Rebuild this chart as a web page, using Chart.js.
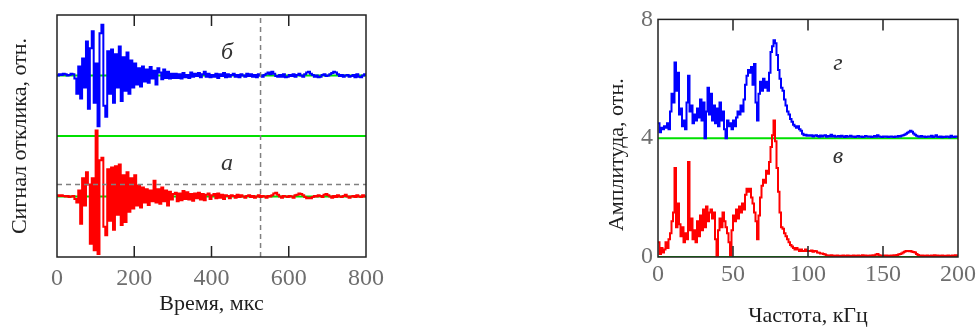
<!DOCTYPE html>
<html lang="ru">
<head>
<meta charset="UTF-8">
<title>Сигнал отклика и спектр</title>
<script src="https://cdn.jsdelivr.net/npm/chart.js"></script>
<style>
    body { margin: 0; background: #fff; width: 980px; height: 329px; overflow: hidden; position: relative; }
    #timeChart { position: absolute; left: 0; top: 0; }
    #freqChart { position: absolute; left: 590px; top: 0; }
</style>
</head>
<body>
<canvas id="timeChart" width="400" height="329"></canvas>
<canvas id="freqChart" width="390" height="329"></canvas>
<script>
// --- сигналы (шаг 5 мкс, 0..800 мкс) ---
const timeStep = 5;
const timeTicks = [0, 200, 400, 600, 800];

// а — красный
const signalA = [
    0.02, 0.01, 0.02, 0.01, 0, 0.01, -0.01, 0, 0.01,
    -0.04, -0.1, 0.1, -0.45, 0.3, -0.15, 0.4, 0.2, -0.78, 0.3,
    -0.89, 1.09, -0.95, 0.6, 0.64, -0.5, -0.64, 0.45, -0.4, 0.48,
    -0.55, 0.5, -0.3, 0.53, -0.47, 0.35, -0.42, 0.4, -0.25, 0.3,
    -0.2, 0.35, -0.15, 0.18, -0.18, 0.15, -0.1, 0.12, -0.14, 0.1,
    -0.08, 0.26, -0.1, 0.12, -0.12, 0.15, -0.08, 0.1, -0.15, 0.08,
    -0.05, 0.04,
    0.06, -0.08, 0.05, -0.06, 0.09, -0.04, 0.07, -0.05, 0.04, -0.07,
    0.05, -0.03, 0.06, -0.05, 0.04, -0.06, 0.03, 0.05, -0.04, 0.02,
    0.04, -0.03, 0.05, -0.02, 0.03, -0.04, 0.02, 0.01, -0.03, 0.02,
    0.01, -0.02, 0.03, -0.01, 0.02, 0, -0.02, 0.01, 0.02, -0.01,
    0.01, -0.02, 0, 0.02, -0.01, 0.01, 0, -0.02, 0.01, 0,
    0.02, 0.05, 0.06, 0.03, 0, -0.02, 0.01, 0, -0.01, 0.01,
    0, -0.02, 0.02, 0.03, 0.05, 0.04, 0.02, -0.01, -0.03, -0.02,
    -0.03, -0.01, 0.01, 0, 0.02, 0.01, -0.01, 0.03, 0.04, 0.02,
    0, -0.02, 0.01, -0.01, 0.02, 0, -0.01, 0.01, 0.03, 0,
    -0.02, 0, 0.01, -0.01, 0.02, 0, -0.01, 0.02, 0, 0.01
];

// б — синий
const signalB = [
    0, 0.02, 0.01, 0.03, 0.02, 0, 0.01, 0.03, 0.02,
    -0.05, -0.3, 0.15, -0.38, 0.28, -0.2, 0.56, -0.55, 0.45, 0.73,
    -0.45, 0.2, -0.84, 0.7, 0.84, -0.5, -0.68, 0.4, -0.3, 0.43,
    -0.45, 0.35, -0.2, 0.48, -0.42, 0.3, -0.25, 0.38, -0.3, 0.25,
    -0.2, 0.2, -0.15, 0.12, -0.18, 0.15, -0.1, 0.1, -0.12, 0.14,
    -0.05, 0.08, -0.15, 0.12, 0.05, -0.06, 0.1, -0.04, 0.06, -0.05,
    0.03, -0.04,
    0.03, -0.04, 0.02, -0.05, 0.04, -0.03, 0.01, -0.04, 0.05, -0.02,
    0.03, -0.01, 0.04, -0.03, 0.02, 0.06, -0.02, 0.03, -0.03, 0.01,
    -0.02, 0.03, -0.04, 0.02, -0.01, 0.04, -0.03, 0.02, -0.02, 0.01,
    0.03, -0.02, 0.01, -0.03, 0.02, 0, -0.02, 0.03, -0.01, 0.02,
    -0.02, 0.01, -0.03, 0.02, 0, -0.02, 0.01, 0.03, 0.05, 0.02,
    0.06, 0.03, -0.01, -0.02, 0.01, -0.02, 0.02, -0.03, -0.02, 0.01,
    -0.01, 0.02, -0.02, 0.01, 0.03, 0, -0.02, 0.02, 0.05, 0.06,
    0.03, 0.01, -0.02, 0, -0.03, -0.02, 0.01, 0.02, -0.01, 0,
    0.02, 0.04, 0.06, 0.05, 0.02, -0.01, 0.01, -0.02, 0, 0.01,
    -0.02, -0.01, 0.01, -0.03, 0.02, -0.02, -0.03, 0, 0.02, -0.01
];

// --- спектры (шаг 1 кГц, 0..200 кГц) ---
const freqStep = 1;
const freqTicks = [0, 50, 100, 150, 200];
const ampTicks = [0, 4, 8];

// в — красный
const spectrumV = [
    0.5, 0.1, 0.3, 0.15, 0.25, 0.5, 0.3, 0.6, 0.8, 1.2,
    1.5, 3.0, 1.0, 1.8, 1.1, 0.7, 1.0, 0.5, 0.8, 0.6,
    3.2, 0.9, 1.3, 0.6, 0.9, 0.5, 1.2, 0.7, 1.4, 0.9,
    1.6, 1.0, 1.7, 1.2, 1.5, 1.6, 1.3, 1.5, 0.6, 0.0,
    0.9, 1.3, 1.0, 1.5, 1.2, 1.0, 0.8, 0.5, 0.05, 0.9,
    1.4, 1.2, 1.6, 1.3, 1.7, 1.5, 1.8, 1.6, 2.1, 2.3,
    2.2, 2.3, 2.0, 1.8, 1.5, 1.2, 0.6, 1.4, 2.0, 2.4,
    2.6, 2.5, 2.9, 2.8, 3.2, 3.7, 4.1, 4.6, 3.9, 3.0,
    2.2, 1.5, 1.0, 0.95, 0.8, 0.7, 0.6, 0.5, 0.4, 0.35,
    0.3, 0.25, 0.3, 0.25, 0.2, 0.25, 0.2, 0.2, 0.25, 0.2,
    0.2,
    0.2, 0.22, 0.18, 0.2, 0.19, 0.15, 0.14, 0.12, 0.12, 0.1,
    0.08, 0.06, 0.05, 0.04, 0.06, 0.05, 0.03, 0.04, 0.05, 0.03,
    0.04, 0.03, 0.05, 0.04, 0.03, 0.05, 0.04, 0.03, 0.04, 0.05,
    0.03, 0.04, 0.05, 0.04, 0.03, 0.06, 0.04, 0.05, 0.03, 0.04,
    0.05, 0.04, 0.06, 0.05, 0.08, 0.1, 0.06, 0.05, 0.04, 0.05,
    0.04, 0.05, 0.03, 0.04, 0.05, 0.04, 0.06, 0.05, 0.07, 0.08,
    0.1, 0.12, 0.15, 0.18, 0.2, 0.2, 0.19, 0.2, 0.18, 0.17,
    0.15, 0.1, 0.07, 0.05, 0.04, 0.05, 0.03, 0.04, 0.05, 0.03,
    0.04, 0.05, 0.03, 0.06, 0.04, 0.05, 0.03, 0.04, 0.05, 0.03,
    0.04, 0.03, 0.05, 0.04, 0.03, 0.05, 0.04, 0.06, 0.05, 0.07
];

// г — синий (над уровнем 4)
const spectrumG = [
    0.5, 0.2, 0.35, 0.3, 0.4, 0.35, 0.5, 0.3, 0.9, 1.5,
    1.2, 2.55, 1.6, 2.2, 0.8, 1.0, 0.4, 0.6, 0.3, 1.2,
    2.1, 0.9, 1.1, 0.5, 0.8, 0.6, 1.0, 0.7, 1.3, 0.6,
    1.2, 0.0, 0.9, 1.7, 0.8, 1.5, 0.6, 1.1, 0.5, 1.0,
    0.4, 1.2, 0.6, 0.9, 0.3, 0.0, 0.6, 0.4, 0.5, 0.3,
    0.6, 0.4, 0.7, 0.9, 0.8, 1.1, 0.9, 1.3, 1.8, 2.1,
    2.3, 2.2, 2.4, 1.8, 2.5, 1.2, 0.6, 1.5, 1.9, 1.6,
    2.0, 1.7, 1.9, 1.6, 2.2, 2.9, 3.1, 3.3, 3.2, 2.8,
    2.3, 2.0, 1.7, 1.6, 1.3, 1.1, 0.9, 0.8, 0.65, 0.55,
    0.45, 0.4, 0.35, 0.4, 0.3, 0.25, 0.15, 0.1, 0.12, 0.08,
    0.1,
    0.08, 0.1, 0.06, 0.08, 0.1, 0.07, 0.05, 0.09, 0.06, 0.08,
    0.1, 0.05, 0.07, 0.06, 0.12, 0.06, 0.08, 0.05, 0.06, 0.07,
    0.05, 0.08, 0.06, 0.04, 0.07, 0.05, 0.06, 0.08, 0.05, 0.06,
    0.04, 0.06, 0.07, 0.05, 0.06, 0.04, 0.05, 0.07, 0.06, 0.05,
    0.06, 0.04, 0.05, 0.07, 0.05, 0.1, 0.06, 0.05, 0.04, 0.06,
    0.05, 0.06, 0.04, 0.05, 0.06, 0.05, 0.04, 0.06, 0.05, 0.07,
    0.06, 0.08, 0.1, 0.12, 0.15, 0.18, 0.22, 0.25, 0.22, 0.16,
    0.12, 0.08, 0.06, 0.05, 0.07, 0.05, 0.06, 0.04, 0.05, 0.06,
    0.05, 0.08, 0.04, 0.06, 0.1, 0.05, 0.04, 0.06, 0.03, 0.05,
    0.04, 0.06, 0.05, 0.03, 0.08, 0.05, 0.04, 0.06, 0.05, 0.07
];

const offsetB = 2;          // сдвиг кривой б
const offsetG = 4;          // сдвиг кривой г
const levelsTime = [0, 1, 2];
const levelsFreq = [0, 4];
const cursorTime = 527;
const cursorLevel = 0.2;

const serif = 'Liberation Serif';
const titleFont = { family: serif, size: 22 };
const tickFont = { family: serif, size: 24 };
const titleColor = '#1e1e1e';
const tickColor = '#6e6e6e';

function series(values, step, shift) {
    return values.map((v, i) => ({ x: i * step, y: v + shift }));
}
function hline(level, xmax) {
    return [{ x: 0, y: level }, { x: xmax, y: level }];
}
function dashed(data) {
    return { data: data, borderColor: '#808080', borderWidth: 1.5, borderDash: [5, 4] };
}
function trace(data, color) {
    return { data: data, borderColor: color, borderWidth: 2, stepped: true };
}
function level(data) {
    return { data: data, borderColor: '#00e000', borderWidth: 2 };
}

// рамка, внутренние риски и буквенные метки
const frameTicks = {
    id: 'frameTicks',
    afterDatasetsDraw(chart, args, opts) {
        const { ctx, chartArea: a, scales: { x, y } } = chart;
        ctx.save();
        ctx.strokeStyle = '#222';
        ctx.lineWidth = 1.5;
        ctx.strokeRect(a.left, a.top, a.width, a.height);
        ctx.beginPath();
        x.ticks.forEach(t => {
            const px = x.getPixelForValue(t.value);
            if (px <= a.left + 2 || px >= a.right - 2) return;
            ctx.moveTo(px, a.top);
            ctx.lineTo(px, a.top + 11);
            ctx.moveTo(px, a.bottom);
            ctx.lineTo(px, a.bottom - 11);
        });
        ctx.stroke();
        ctx.fillStyle = '#333';
        ctx.font = 'italic 24px "Liberation Serif"';
        ctx.textAlign = 'center';
        ctx.textBaseline = 'middle';
        (opts.marks || []).forEach(m => {
            ctx.fillText(m.text, x.getPixelForValue(m.x), y.getPixelForValue(m.y));
        });
        ctx.restore();
    }
};

function xAxis(max, ticksList, title, tickPad, titlePad) {
    return {
        type: 'linear', min: 0, max: max,
        grid: { display: false, drawTicks: false },
        border: { display: false },
        afterBuildTicks: s => { s.ticks = ticksList.map(v => ({ value: v })); },
        ticks: { font: tickFont, color: tickColor, padding: tickPad, maxRotation: 0, autoSkip: false },
        title: { display: true, text: title, font: titleFont, color: titleColor, padding: { top: 0, bottom: titlePad } },
        afterFit: s => { s.height = 72; }
    };
}

const common = {
    responsive: false,
    devicePixelRatio: 1,
    animation: false,
    elements: { point: { radius: 0 }, line: { tension: 0, fill: false } },
    plugins: { legend: { display: false }, tooltip: { enabled: false } }
};

new Chart(document.getElementById('timeChart'), {
    type: 'line',
    data: {
        datasets: [
            dashed([{ x: cursorTime, y: -1 }, { x: cursorTime, y: 3 }]),
            dashed(hline(cursorLevel, 800)),
            trace(series(signalB, timeStep, offsetB), '#0000ff'),
            trace(series(signalA, timeStep, 0), '#ff0000'),
            ...levelsTime.map(l => level(hline(l, 800)))
        ]
    },
    options: {
        ...common,
        layout: { padding: { left: 0, top: 15, right: 34, bottom: 0 } },
        plugins: {
            ...common.plugins,
            frameTicks: { marks: [{ text: 'б', x: 440, y: 2.38 }, { text: 'а', x: 440, y: 0.55 }] }
        },
        scales: {
            x: xAxis(800, timeTicks, 'Время, мкс', 7, 12),
            y: {
                min: -1, max: 3,
                grid: { display: false, drawTicks: false },
                border: { display: false },
                ticks: { display: false },
                title: { display: true, text: 'Сигнал отклика, отн.', font: titleFont, color: titleColor, padding: { top: 7, bottom: 0 } },
                afterFit: s => { s.width = 57; }
            }
        }
    },
    plugins: [frameTicks]
});

new Chart(document.getElementById('freqChart'), {
    type: 'line',
    data: {
        datasets: [
            trace(series(spectrumG, freqStep, offsetG), '#0000ff'),
            trace(series(spectrumV, freqStep, 0), '#ff0000'),
            ...levelsFreq.map(l => level(hline(l, 200)))
        ]
    },
    options: {
        ...common,
        layout: { padding: { left: 0, top: 15, right: 22, bottom: 0 } },
        plugins: {
            ...common.plugins,
            frameTicks: { marks: [{ text: 'г', x: 120, y: 6.5 }, { text: 'в', x: 120, y: 3.37 }] }
        },
        scales: {
            x: xAxis(200, freqTicks, 'Частота, кГц', 3, 0),
            y: {
                min: 0, max: 8,
                grid: { display: false, drawTicks: false },
                border: { display: false },
                afterBuildTicks: s => { s.ticks = ampTicks.map(v => ({ value: v })); },
                ticks: { font: tickFont, color: tickColor, padding: 5, autoSkip: false },
                title: { display: true, text: 'Амплитуда, отн.\u00a0\u00a0\u00a0\u00a0\u00a0\u00a0', font: titleFont, color: titleColor, padding: { top: 14, bottom: 0 } },
                afterFit: s => { s.width = 68; }
            }
        }
    },
    plugins: [frameTicks]
});
</script>
</body>
</html>
